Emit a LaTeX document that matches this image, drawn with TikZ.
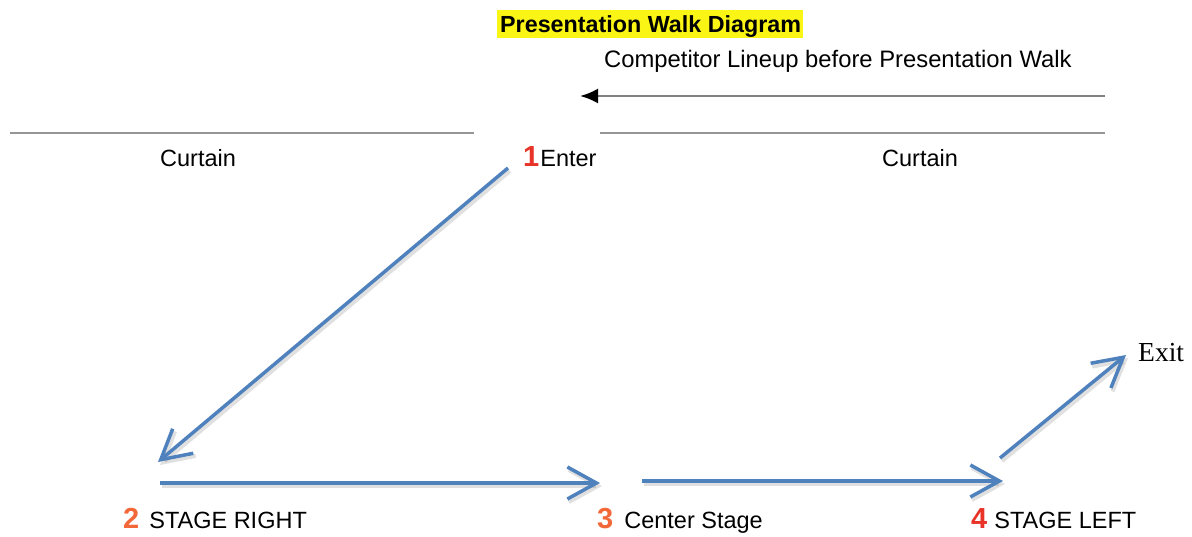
\documentclass[tikz,border=0pt]{standalone}
\usepackage{fontspec}
\setmainfont{Liberation Sans}
\newfontfamily\serifexit{Liberation Serif}
\usetikzlibrary{arrows.meta}
\definecolor{walkblue}{RGB}{79,129,189}
\definecolor{curtaingray}{RGB}{150,150,150}
\definecolor{numred}{RGB}{232,52,40}
\definecolor{numorange}{RGB}{242,104,56}
\definecolor{hiyellow}{RGB}{250,245,20}
\tikzset{
  walk/.style={draw=walkblue, line width=3.5pt,
    -{Straight Barb[length=29pt,width=32pt]},
    preaction={draw=black, opacity=0.12, line width=4pt, transform canvas={shift={(2pt,-3pt)}}}},
  curtainline/.style={draw=curtaingray, line width=2pt},
  lineup/.style={draw=gray, line width=2.5pt, -{Latex[length=18pt,width=15pt,black]}},
  lbl/.style={inner sep=0pt, anchor=base west, font=\fontsize{23.5}{27}\selectfont},
}
\newcommand{\bignum}[2]{{\color{#1}\fontsize{29}{32}\selectfont\bfseries #2}}
\begin{document}
\begin{tikzpicture}[x=1pt,y=-1pt]
\useasboundingbox (0,0) rectangle (1192,536);
% title
\fill[hiyellow] (497,10) rectangle (803,38);
\node[lbl, font=\fontsize{23.3}{27}\selectfont\bfseries] (title) at (500,32) {Presentation Walk Diagram};
\node[lbl, font=\fontsize{23.8}{27}\selectfont] (lineuptxt) at (604,67) {Competitor Lineup before Presentation Walk};
% lineup arrow
\coordinate (lineR) at (1105,96);
\coordinate (lineL) at (580,96);
\draw[lineup] (lineR) -- (lineL);
% curtains
\coordinate (cl1) at (10,133);
\coordinate (cl2) at (474,133);
\coordinate (cr1) at (600,133);
\coordinate (cr2) at (1105,133);
\draw[curtainline] (cl1) -- (cl2);
\draw[curtainline] (cr1) -- (cr2);
\node[lbl] (curtL) at (160,166) {Curtain};
\node[lbl] (curtR) at (882,166) {Curtain};
% labels
\node[lbl] (enter) at (523,166) {\bignum{numred}{1}\hspace{1pt}Enter};
\node[lbl] (right) at (123,528) {\bignum{numorange}{2}\hspace{10pt}STAGE RIGHT};
\node[lbl] (center) at (597,528) {\bignum{numorange}{3}\hspace{11pt}Center Stage};
\node[lbl] (left) at (971,528) {\bignum{numred}{4}\hspace{7pt}STAGE LEFT};
\node[lbl, font=\fontsize{27.5}{30}\selectfont\serifexit] (exit) at (1138,361) {Exit};
% walk path
\coordinate (a1s) at (508,168);
\coordinate (a1e) at (158,462);
\coordinate (a2s) at (160,483);
\coordinate (a2e) at (600,483);
\coordinate (a3s) at (642,481);
\coordinate (a3e) at (1003,481);
\coordinate (a4s) at (1000,458);
\coordinate (a4e) at (1126,355);
\draw[walk] (a1s) -- (a1e);
\draw[walk] (a2s) -- (a2e);
\draw[walk] (a3s) -- (a3e);
\draw[walk] (a4s) -- (a4e);
\end{tikzpicture}
\end{document}
